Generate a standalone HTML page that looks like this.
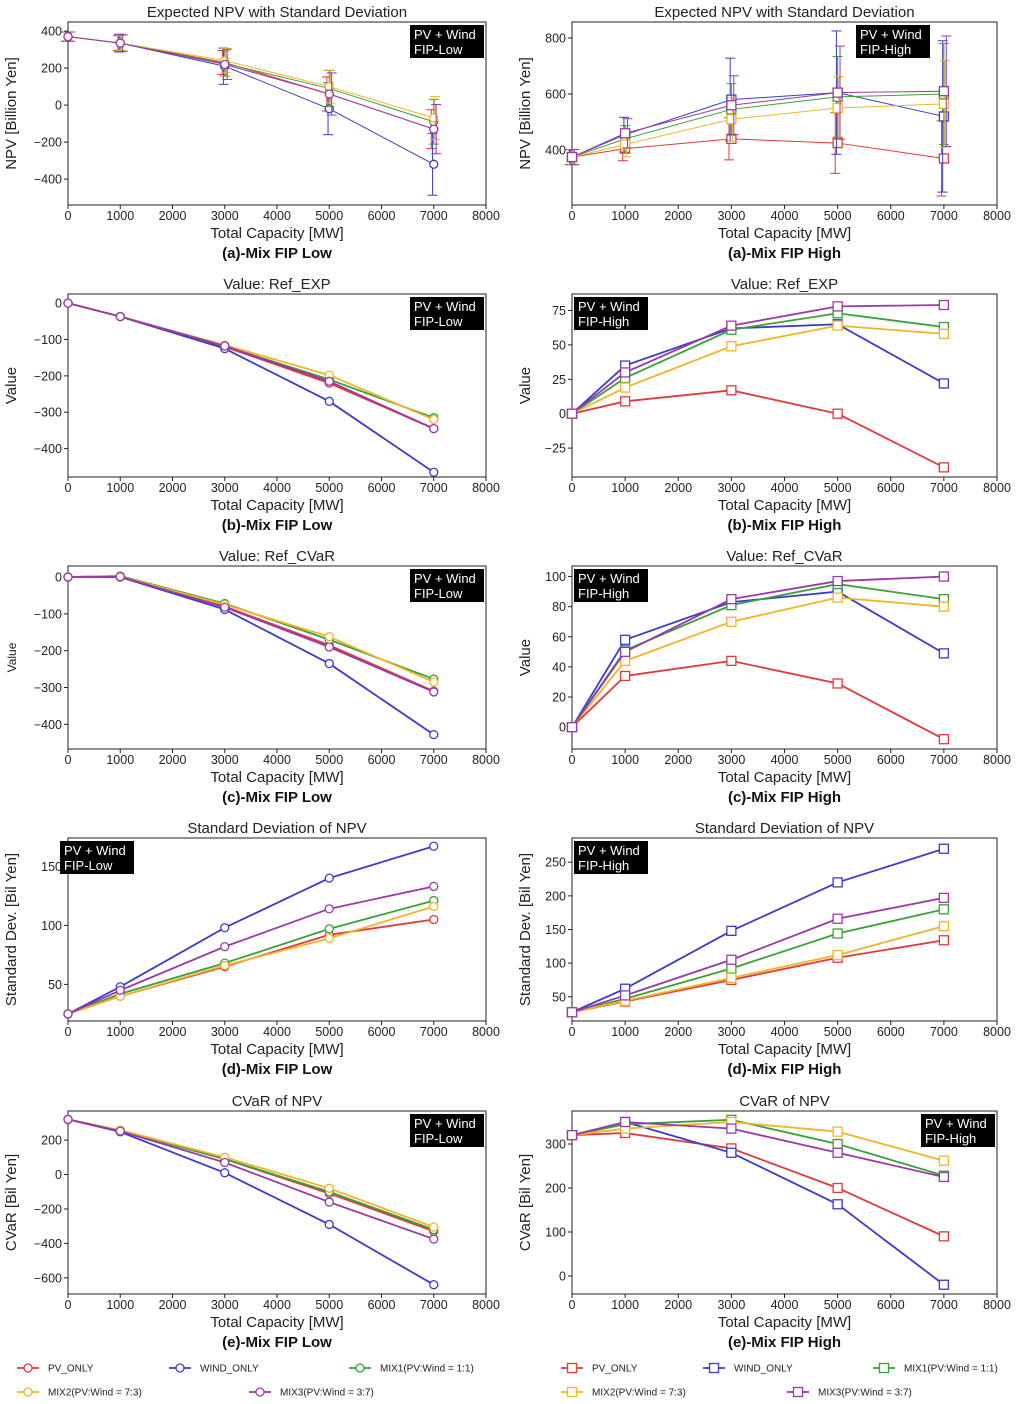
<!DOCTYPE html>
<html><head><meta charset="utf-8">
<style>
body{margin:0;background:#fff;width:1021px;height:1404px;overflow:hidden}
svg{display:block;font-family:"Liberation Sans","Noto Sans CJK JP",sans-serif}
</style></head>
<body>
<svg id="chart" width="1021" height="1404" viewBox="0 0 1021 1404" xmlns="http://www.w3.org/2000/svg"></svg>
<script>
// ---- data ----
const xValues = [0, 1000, 3000, 5000, 7000];
const xTicks = [0,1000,2000,3000,4000,5000,6000,7000,8000];
const seriesNames = ["PV_ONLY","WIND_ONLY","MIX1","MIX2","MIX3"];
const legendLabels = ["PV_ONLY","WIND_ONLY","MIX1(PV:Wind = 1:1)","MIX2(PV:Wind = 7:3)","MIX3(PV:Wind = 3:7)"];
const colors = ["#e03a3a","#3c3cc8","#3aa03a","#f0b52a","#9a3aa8"];

const npvLow = [[370,335,230,60,-130],[370,335,210,-20,-320],[370,335,225,90,-90],[370,335,240,100,-70],[370,335,220,60,-130]];
const npvHigh = [[375,405,440,425,370],[375,455,580,605,520],[375,440,545,590,600],[375,420,510,550,565],[375,460,560,605,610]];
const expLow = [[0,-37,-120,-220,-345],[0,-37,-125,-270,-465],[0,-37,-118,-210,-315],[0,-37,-115,-198,-320],[0,-37,-118,-215,-345]];
const expHigh = [[0,9,17,0,-39],[0,35,62,65,22],[0,26,61,73,63],[0,19,49,64,58],[0,30,64,78,79]];
const cvarRefLow = [[0,2,-80,-185,-310],[0,0,-88,-235,-428],[0,3,-72,-170,-277],[0,2,-75,-162,-285],[0,1,-82,-190,-312]];
const cvarRefHigh = [[0,34,44,29,-8],[0,58,83,90,49],[0,51,81,95,85],[0,44,70,86,80],[0,50,85,97,100]];
const stdLow = [[25,40,65,92,105],[25,48,98,140,167],[25,42,68,97,121],[25,40,66,89,116],[25,45,82,114,133]];
const stdHigh = [[27,43,75,108,134],[27,62,148,220,270],[27,47,92,144,180],[27,44,78,112,155],[27,52,105,166,197]];
const cvarLow = [[320,255,90,-110,-330],[320,248,10,-290,-640],[320,255,90,-100,-320],[320,258,100,-80,-305],[320,252,70,-160,-375]];
const cvarHigh = [[320,325,290,200,90],[320,350,280,163,-20],[320,345,355,300,228],[320,335,350,328,262],[320,350,335,280,225]];

const yTicksA_L=[400,200,0,-200,-400], yTicksA_R=[400,600,800];
const yTicksB_L=[0,-100,-200,-300,-400], yTicksB_R=[75,50,25,0,-25];
const yTicksC_L=[0,-100,-200,-300,-400], yTicksC_R=[100,80,60,40,20,0];
const yTicksD_L=[150,100,50], yTicksD_R=[250,200,150,100,50];
const yTicksE_L=[200,0,-200,-400,-600], yTicksE_R=[300,200,100,0];

// ---- layout ----
const NS="http://www.w3.org/2000/svg";
const svg=document.getElementById('chart');
function mk(tag,attrs,parent){const e=document.createElementNS(NS,tag);for(const k in attrs)e.setAttribute(k,attrs[k]);(parent||svg).appendChild(e);return e;}

const cols=[{x0:68,x1:486,marker:'circle',suffix:'Low'},{x0:572,x1:997,marker:'square',suffix:'High'}];
const rows=[{top:22,bot:205,title:'Expected NPV with Standard Deviation',ylab:'NPV [Billion Yen]',cap:'a'},
{top:294,bot:477,title:'Value: Ref_EXP',ylab:'Value',cap:'b'},
{top:566,bot:749,title:'Value: Ref_CVaR',ylab:'Value',cap:'c'},
{top:838,bot:1021,title:'Standard Deviation of NPV',ylab:'Standard Dev. [Bil Yen]',cap:'d'},
{top:1111,bot:1294,title:'CVaR of NPV',ylab:'CVaR [Bil Yen]',cap:'e'}];

const panels=[
 {r:0,c:0,data:npvLow,err:stdLow,ymin:-540,ymax:449,ticks:yTicksA_L,box:'tr'},
 {r:0,c:1,data:npvHigh,err:stdHigh,ymin:204,ymax:857,ticks:yTicksA_R,box:'tr2'},
 {r:1,c:0,data:expLow,ymin:-478,ymax:25,ticks:yTicksB_L,box:'tr'},
 {r:1,c:1,data:expHigh,ymin:-46,ymax:87,ticks:yTicksB_R,box:'tl'},
 {r:2,c:0,data:cvarRefLow,ymin:-467,ymax:30,ticks:yTicksC_L,box:'tr',smallY:true},
 {r:2,c:1,data:cvarRefHigh,ymin:-14.5,ymax:107,ticks:yTicksC_R,box:'tl'},
 {r:3,c:0,data:stdLow,ymin:19,ymax:174,ticks:yTicksD_L,box:'tl'},
 {r:3,c:1,data:stdHigh,ymin:14,ymax:286,ticks:yTicksD_R,box:'tl'},
 {r:4,c:0,data:cvarLow,ymin:-694,ymax:369,ticks:yTicksE_L,box:'tr'},
 {r:4,c:1,data:cvarHigh,ymin:-41,ymax:375,ticks:yTicksE_R,box:'tr'}
];

panels.forEach((p,pi)=>{
 const col=cols[p.c], row=rows[p.r];
 const g=mk('g',{});
 
 
 const sx=v=>col.x0+(v-0)/8000*(col.x1-col.x0);
 const sy=v=>row.bot-(v-p.ymin)/(p.ymax-p.ymin)*(row.bot-row.top);
 const frame=mk('rect',{x:col.x0,y:row.top,width:col.x1-col.x0,height:row.bot-row.top,fill:'none',stroke:'#222','stroke-width':1},g);
 
 
 const t=mk('text',{x:(col.x0+col.x1)/2,y:row.top-5,'text-anchor':'middle','font-size':15,fill:'#222'},g);
 t.textContent=row.title;
 
 
 xTicks.forEach(v=>{
  mk('line',{x1:sx(v),x2:sx(v),y1:row.bot,y2:row.bot+4,stroke:'#222'},g);
  const tl=mk('text',{x:sx(v),y:row.bot+15,'text-anchor':'middle','font-size':12.5,fill:'#222'},g);
  tl.textContent=v;
  
  
 });
 p.ticks.forEach(v=>{
  mk('line',{x1:col.x0-4,x2:col.x0,y1:sy(v),y2:sy(v),stroke:'#222'},g);
  const tl=mk('text',{x:col.x0-6,y:sy(v)+4.5,'text-anchor':'end','font-size':12.5,fill:'#222'},g);
  tl.textContent=(v<0?'\u2212'+(-v):v);
  
  
 });
 const xl=mk('text',{x:(col.x0+col.x1)/2,y:row.bot+33,'text-anchor':'middle','font-size':15,fill:'#222'},g);
 xl.textContent='Total Capacity [MW]';
 
 
 const cp=mk('text',{x:(col.x0+col.x1)/2,y:row.bot+53,'text-anchor':'middle','font-size':15,'font-weight':'bold',fill:'#111'},g);
 cp.textContent='('+row.cap+')-Mix FIP '+col.suffix;
 
 
 const ycx=col.x0-(p.c===0?52:42), ycy=(row.top+row.bot)/2;
 const yl=mk('text',{x:ycx,y:ycy,'text-anchor':'middle','font-size':p.smallY?12:15,fill:'#222',transform:'rotate(-90 '+ycx+' '+ycy+')'},g);
 yl.textContent=row.ylab;
 
 
 // series
 p.data.forEach((vals,si)=>{
  const c=colors[si];
  const sg=mk('g',{},g);
  
  
  if(p.err){
   vals.forEach((v,i)=>{
    const x=sx(xValues[i])+(si-2)*1.2, e=p.err[si][i];
    mk('line',{x1:x,x2:x,y1:sy(v-e),y2:sy(v+e),stroke:c,'stroke-width':1},sg);
    mk('line',{x1:x-5,x2:x+5,y1:sy(v-e),y2:sy(v-e),stroke:c,'stroke-width':1},sg);
    mk('line',{x1:x-5,x2:x+5,y1:sy(v+e),y2:sy(v+e),stroke:c,'stroke-width':1},sg);
   });
  }
  const pts=vals.map((v,i)=>sx(xValues[i])+','+sy(v)).join(' ');
  const pl=mk('polyline',{points:pts,fill:'none',stroke:c,'stroke-width':p.err?1:1.8},sg);
  
  
  vals.forEach((v,i)=>{
   let m;
   if(col.marker==='circle') m=mk('circle',{cx:sx(xValues[i]),cy:sy(v),r:4,fill:'#fff',stroke:c,'stroke-width':1.3},sg);
   else m=mk('rect',{x:sx(xValues[i])-4.5,y:sy(v)-4.5,width:9,height:9,fill:'#fff',stroke:c,'stroke-width':1.3},sg);
   
   
  });
 });
 // label box
 let bx;
 if(p.box==='tr') bx=col.x1-76; else if(p.box==='tr2') bx=col.x0+284; else bx=col.x0-8+10;
 if(p.box==='tl'&&p.c===0) bx=60;
 if(p.box==='tl'&&p.c===1) bx=574;
 const by=row.top+3;
 const bg=mk('g',{},g);
 
 
 mk('rect',{x:bx,y:by,width:74,height:33,fill:'#000'},bg);
 const l1=mk('text',{x:bx+4,y:by+14,'font-size':13,fill:'#fff'},bg); l1.textContent='PV + Wind';
 const l2=mk('text',{x:bx+4,y:by+29,'font-size':13,fill:'#fff'},bg); l2.textContent='FIP-'+col.suffix;
});

// legends
const legendPos=[
 [[28,1368],[180,1368],[360,1368],[28,1392],[260,1392]],
 [[572,1368],[714,1368],[884,1368],[572,1392],[798,1392]]
];
legendPos.forEach((arr,ci)=>{
 const lg=mk('g',{});
 
 
 arr.forEach((pos,si)=>{
  const [x,y]=pos, c=colors[si];
  const eg=mk('g',{},lg);
  
  
  mk('line',{x1:x-11,x2:x+11,y1:y,y2:y,stroke:c,'stroke-width':1.8},eg);
  if(ci===0) mk('circle',{cx:x,cy:y,r:4,fill:'#fff',stroke:c,'stroke-width':1.3},eg);
  else mk('rect',{x:x-4.5,y:y-4.5,width:9,height:9,fill:'#fff',stroke:c,'stroke-width':1.3},eg);
  const tx=mk('text',{x:x+20,y:y+3.5,'font-size':10,fill:'#222'},eg);
  tx.textContent=legendLabels[si];
 });
});
</script>
</body></html>
